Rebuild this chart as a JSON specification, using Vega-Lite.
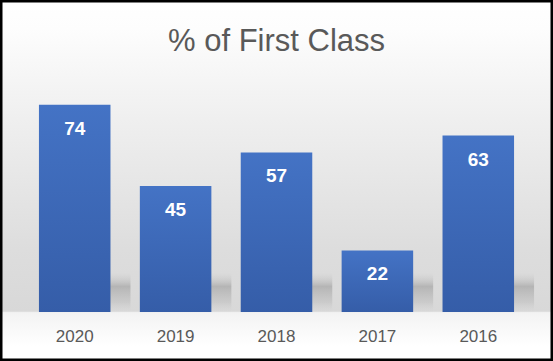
{
  "$schema": "https://vega.github.io/schema/vega-lite/v6.json",
  "width": 553,
  "height": 361,
  "padding": 0,
  "autosize": {"type": "none"},
  "background": "white",
  "title": {
    "text": "% of First Class",
    "font": "Liberation Sans",
    "fontSize": 31,
    "fontWeight": "normal",
    "color": "#595959",
    "anchor": "middle",
    "frame": "group",
    "baseline": "alphabetic",
    "offset": -82
  },
  "data": {
    "values": [
      {"year": "2020", "value": 74},
      {"year": "2019", "value": 45},
      {"year": "2018", "value": 57},
      {"year": "2017", "value": 22},
      {"year": "2016", "value": 63}
    ]
  },
  "encoding": {
    "x": {
      "field": "year",
      "type": "nominal",
      "sort": null,
      "scale": {"paddingInner": 0.291, "paddingOuter": 0.386},
      "axis": {
        "title": null,
        "orient": "bottom",
        "offset": -49,
        "domain": false,
        "ticks": false,
        "tickSize": 0,
        "grid": false,
        "labelAngle": 0,
        "labelPadding": 24,
        "labelBaseline": "middle",
        "labelFont": "Liberation Sans",
        "labelFontSize": 17,
        "labelColor": "#595959"
      }
    }
  },
  "layer": [
    {
      "mark": {
        "type": "bar",
        "xOffset": 20,
        "fill": {
          "gradient": "linear",
          "x1": 0, "y1": 0, "x2": 0, "y2": 1,
          "stops": [
            {"offset": 0, "color": "rgba(200,200,200,0)"},
            {"offset": 0.35, "color": "rgba(165,165,165,0.7)"},
            {"offset": 0.75, "color": "rgba(185,185,185,0.45)"},
            {"offset": 1, "color": "rgba(220,220,220,0.2)"}
          ]
        }
      },
      "encoding": {
        "y": {"datum": 14, "type": "quantitative", "scale": {"domain": [-17.5, 111.43], "nice": false, "zero": false}, "axis": null},
        "y2": {"datum": 0}
      }
    },
    {
      "mark": {
        "type": "bar",
        "fill": {
          "gradient": "linear",
          "x1": 0, "y1": 0, "x2": 0, "y2": 1,
          "stops": [
            {"offset": 0, "color": "#4473c5"},
            {"offset": 1, "color": "#355da8"}
          ]
        }
      },
      "encoding": {
        "y": {"field": "value", "type": "quantitative", "scale": {"domain": [-17.5, 111.43], "nice": false, "zero": false}, "axis": null},
        "y2": {"datum": 0}
      }
    },
    {
      "mark": {
        "type": "text",
        "baseline": "middle",
        "dy": 24,
        "font": "Liberation Sans",
        "fontSize": 19,
        "fontWeight": "bold",
        "color": "white"
      },
      "encoding": {
        "y": {"field": "value", "type": "quantitative"},
        "text": {"field": "value", "type": "quantitative"}
      }
    }
  ],
  "config": {
    "view": {
      "stroke": "#000000",
      "strokeWidth": 5,
      "fill": {
        "gradient": "linear",
        "x1": 0, "y1": 0, "x2": 0, "y2": 1,
        "stops": [
          {"offset": 0, "color": "#ffffff"},
          {"offset": 0.08, "color": "#fdfdfd"},
          {"offset": 0.33, "color": "#efefef"},
          {"offset": 0.69, "color": "#dddddd"},
          {"offset": 0.862, "color": "#d8d8d8"},
          {"offset": 0.866, "color": "#f3f3f3"},
          {"offset": 0.96, "color": "#ffffff"},
          {"offset": 1, "color": "#ffffff"}
        ]
      }
    }
  }
}
